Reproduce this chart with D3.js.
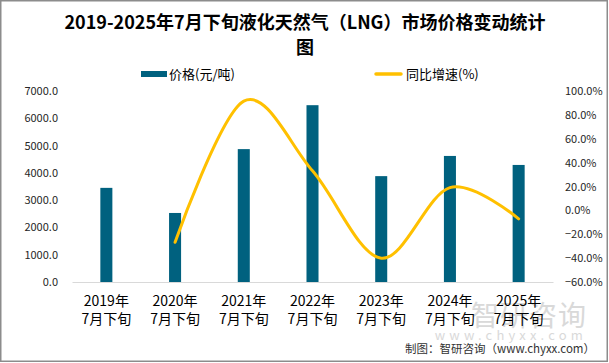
<!DOCTYPE html>
<html>
<head>
<meta charset="utf-8">
<script src="https://cdn.jsdelivr.net/npm/d3@7"></script>
<style>
html,body{margin:0;padding:0;background:#fff;}
svg{display:block;}
text{font-family:"Noto Sans CJK SC","Noto Sans",sans-serif;}
</style>
</head>
<body>
<svg id="c" width="609" height="363"></svg>
<script>
// ---- data ----
const categories = ["2019年|7月下旬","2020年|7月下旬","2021年|7月下旬","2022年|7月下旬","2023年|7月下旬","2024年|7月下旬","2025年|7月下旬"];
const prices = [3450, 2530, 4870, 6480, 3880, 4620, 4290];
const growth = [null, -26.7, 91.5, 33.1, -40.1, 19.1, -7.1];
const leftTicks = [0,1000,2000,3000,4000,5000,6000,7000];
const rightTicks = [-60,-40,-20,0,20,40,60,80,100];
const titleLines = ["2019-2025年7月下旬液化天然气（LNG）市场价格变动统计","图"];
const legendLabels = ["价格(元/吨)","同比增速(%)"];
const footerText = "制图：智研咨询（www.chyxx.com）";

const svg = d3.select("#c");
const plot = {l:72, r:553, t:91, b:282};
const barColor = "#00617F", lineColor = "#FFC000";

// frame
svg.append("rect").attr("x",0.75).attr("y",0.75).attr("width",606.5).attr("height",360.5)
  .attr("fill","#fff").attr("stroke","#8c8c8c").attr("stroke-width",1.5);

// watermark
const wm = svg.append("g").attr("opacity",0.5);
wm.append("text").attr("x",587).attr("y",326).attr("text-anchor","end")
  .attr("font-size",28).attr("fill","#b4b4b4").attr("letter-spacing",1).text("智研咨询");
wm.append("text").attr("x",587).attr("y",340).attr("text-anchor","end")
  .attr("font-size",13).attr("fill","#b4b4b4").attr("letter-spacing",4.2).text("www.chyxx.com");

// scales
const x = d3.scaleBand().domain(categories).range([plot.l, plot.r]).padding(0);
const yL = d3.scaleLinear().domain([0,7000]).range([plot.b, plot.t]);
const yR = d3.scaleLinear().domain([-60,100]).range([plot.b, plot.t]);
const bw = x.bandwidth()*0.175;

// title
const title = svg.append("text").attr("text-anchor","middle").attr("font-size",18)
  .attr("font-weight","bold").attr("fill","#000");
titleLines.forEach((t,i)=>{
  title.append("tspan").attr("x",305).attr("y",29+i*25).text(t);
});

// legend
const lg = svg.append("g");
lg.append("rect").attr("x",141).attr("y",71).attr("width",26).attr("height",6).attr("fill",barColor);
lg.append("text").attr("x",169).attr("y",74).attr("dy","0.35em").attr("font-size",13).attr("fill","#000").text(legendLabels[0]);
lg.append("line").attr("x1",376).attr("x2",401).attr("y1",74).attr("y2",74)
  .attr("stroke",lineColor).attr("stroke-width",3.5).attr("stroke-linecap","round");
lg.append("text").attr("x",406).attr("y",74).attr("dy","0.35em").attr("font-size",13).attr("fill","#000").text(legendLabels[1]);

// left axis
const axL = d3.axisLeft(yL).tickValues(leftTicks).tickSize(0).tickPadding(0).tickFormat(d=>d3.format(".1f")(d));
const gL = svg.append("g").attr("transform","translate(58,0)").call(axL);
gL.select(".domain").remove();
gL.selectAll("text").attr("font-size",11).attr("fill","#262626").attr("font-family","'Noto Sans',sans-serif");

// right axis
const axR = d3.axisRight(yR).tickValues(rightTicks).tickSize(0).tickPadding(0).tickFormat(d=>d3.format(".1f")(d)+"%");
const gR = svg.append("g").attr("transform","translate(565,0)").call(axR);
gR.select(".domain").remove();
gR.selectAll("text").attr("font-size",11).attr("fill","#262626").attr("font-family","'Noto Sans',sans-serif");

// bars
svg.append("g").selectAll("rect").data(prices).join("rect")
  .attr("x",(d,i)=>x(categories[i])+x.bandwidth()/2-bw/2)
  .attr("width",bw)
  .attr("y",d=>yL(d))
  .attr("height",d=>yL(0)-yL(d))
  .attr("fill",barColor);

// baseline axis
const axB = d3.axisBottom(x).tickSize(0).tickFormat("");
const gB = svg.append("g").attr("transform",`translate(0,${plot.b})`).call(axB);
gB.select(".domain").attr("stroke","#d9d9d9").attr("stroke-width",1.2);

// x labels
const xl = svg.append("g").selectAll("text").data(categories).join("text")
  .attr("text-anchor","middle").attr("font-size",14).attr("fill","#000");
xl.each(function(d){
  const parts = d.split("|");
  const cx = x(d)+x.bandwidth()/2;
  const t = d3.select(this);
  parts.forEach((p,j)=>{
    t.append("tspan").attr("x",cx).attr("y",301+j*18).attr("dy","0.35em").text(p);
  });
});

// line
const pts = growth.map((g,i)=>({g, c:categories[i]})).filter(d=>d.g!==null);
const line = d3.line()
  .x(d=>x(d.c)+x.bandwidth()/2)
  .y(d=>yR(d.g))
  .curve(d3.curveCardinal.tension(0));
svg.append("path").datum(pts).attr("d",line).attr("fill","none")
  .attr("stroke",lineColor).attr("stroke-width",3).attr("stroke-linecap","round");

// footer
svg.append("text").attr("x",595).attr("y",348.5).attr("dy","0.35em").attr("text-anchor","end")
  .attr("font-size",11.5).attr("fill","#333").text(footerText);
</script>
</body>
</html>
